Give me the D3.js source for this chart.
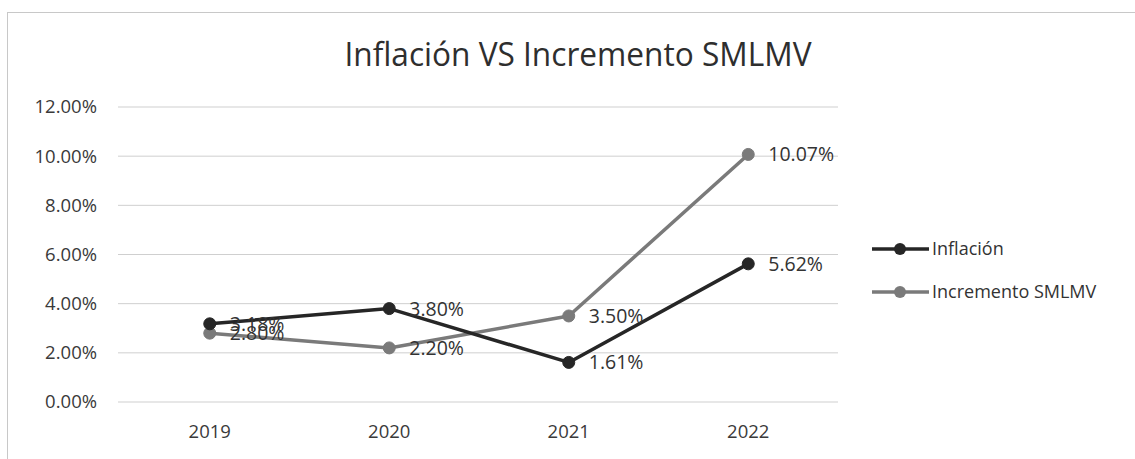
<!DOCTYPE html>
<html>
<head>
<meta charset="utf-8">
<script src="https://cdn.jsdelivr.net/npm/d3@7"></script>
<style>
  body { margin: 0; background: #fff; }
  text { font-family: "Open Sans", "Noto Sans", sans-serif; fill: #3a3a3a; }
</style>
</head>
<body>
<div id="chart"></div>
<script>
const years = ["2019", "2020", "2021", "2022"];
const inflacion = [3.18, 3.80, 1.61, 5.62];
const incremento = [2.80, 2.20, 3.50, 10.07];
const yTicks = [0, 2, 4, 6, 8, 10, 12];
const seriesNames = ["Inflación", "Incremento SMLMV"];

const width = 1135, height = 459;

let svg = d3.select("#chart")
    .append("svg")
    .attr("width", width)
    .attr("height", height);

// chart frame
svg.append("rect")
    .attr("x", 7.5).attr("y", 12.5)
    .attr("width", 1140).attr("height", 460)
    .attr("fill", "none")
    .attr("stroke", "#c8c8c8");

svg.append("text")
    .attr("x", 578).attr("y", 66)
    .attr("text-anchor", "middle")
    .style("font-size", "33px")
    .style("fill", "#2e2e2e")
    .attr("textLength", 467)
    .attr("lengthAdjust", "spacingAndGlyphs")
    .text("Inflación VS Incremento SMLMV");

let x = d3.scaleBand()
    .domain(years)
    .range([120, 838]);

let y = d3.scaleLinear()
    .domain([0, 12])
    .range([402, 107]);

// gridlines
svg.append("g")
    .selectAll("line")
    .data(yTicks)
    .enter().append("line")
    .attr("x1", 118).attr("x2", 838)
    .attr("y1", d => y(d)).attr("y2", d => y(d))
    .attr("stroke", "#cfcfcf")
    .attr("stroke-width", 1);

// y axis labels
let yAxis = svg.append("g")
    .attr("transform", "translate(105,0)")
    .call(d3.axisLeft(y).tickValues(yTicks).tickSize(0).tickPadding(8)
        .tickFormat(d => d.toFixed(2) + "%"));
yAxis.select(".domain").remove();
yAxis.selectAll("text")
    .style("font-size", "18.5px")
    .style("font-family", "'Open Sans', sans-serif")
    .attr("fill", "#444");

// x axis labels
let xAxis = svg.append("g")
    .attr("transform", "translate(0,402)")
    .call(d3.axisBottom(x).tickSize(0).tickPadding(23));
xAxis.select(".domain").remove();
xAxis.selectAll("text")
    .style("font-size", "18.5px")
    .style("font-family", "'Open Sans', sans-serif")
    .attr("fill", "#444");

const cx = d => x(d) + x.bandwidth() / 2;

const series = [
    {name: seriesNames[0], values: inflacion, color: "#262626"},
    {name: seriesNames[1], values: incremento, color: "#7a7a7a"}
];

let line = d3.line()
    .x((d, i) => cx(years[i]))
    .y(d => y(d));

// draw gray first so black lies on top where they cross
[series[1], series[0]].forEach(function (s) {
    svg.append("path")
        .datum(s.values)
        .attr("d", line)
        .attr("fill", "none")
        .attr("stroke", s.color)
        .attr("stroke-width", 3.5)
        .attr("stroke-linejoin", "round");

    svg.append("g")
        .selectAll("circle")
        .data(s.values)
        .enter().append("circle")
        .attr("cx", (d, i) => cx(years[i]))
        .attr("cy", d => y(d))
        .attr("r", 6)
        .attr("fill", s.color)
        .attr("stroke", s.color);
});

// data labels
series.forEach(function (s) {
    svg.append("g")
        .selectAll("text")
        .data(s.values)
        .enter().append("text")
        .attr("x", (d, i) => cx(years[i]) + 20)
        .attr("y", d => y(d))
        .attr("dy", "0.36em")
        .style("font-size", "19.5px")
        .style("fill", "#333")
        .text(d => d.toFixed(2) + "%");
});

// legend
let legend = svg.append("g")
    .selectAll("g")
    .data(series)
    .enter().append("g")
    .attr("transform", (d, i) => "translate(872," + (249 + i * 43) + ")");

legend.append("line")
    .attr("x1", 0).attr("x2", 57)
    .attr("stroke", d => d.color)
    .attr("stroke-width", 3.5);

legend.append("circle")
    .attr("cx", 28).attr("r", 6)
    .attr("fill", d => d.color);

legend.append("text")
    .attr("x", 60)
    .attr("dy", "0.35em")
    .style("font-size", "18px")
    .style("fill", "#333")
    .text(d => d.name);
</script>
</body>
</html>
